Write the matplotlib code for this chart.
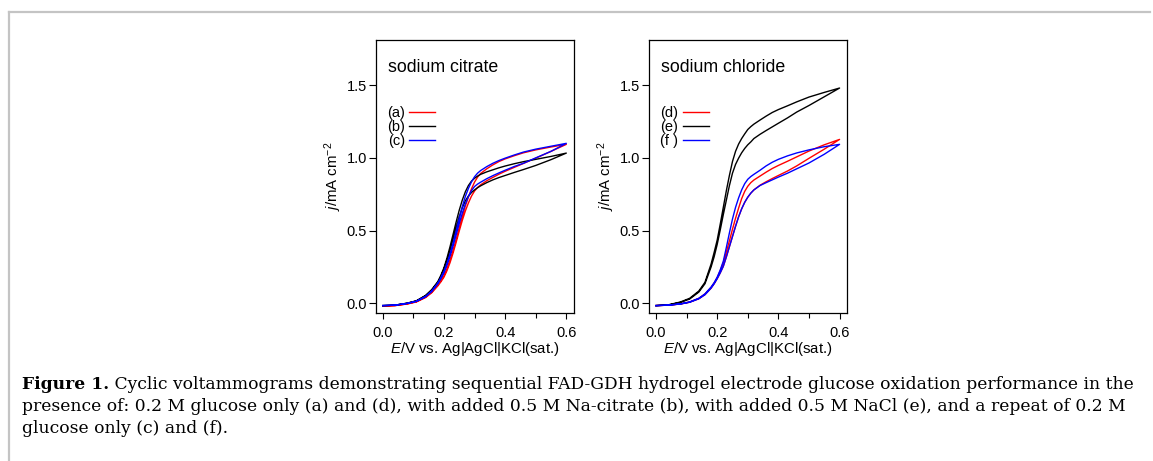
import numpy as np
import matplotlib
matplotlib.use('Agg')
import matplotlib.pyplot as plt
from matplotlib.lines import Line2D
from matplotlib.ticker import MultipleLocator

# potential grid (V) shared by all scans
E = [0, 0.04, 0.08, 0.11, 0.14, 0.16, 0.18, 0.19, 0.2, 0.21, 0.22, 0.23, 0.24, 0.25, 0.26,
     0.27, 0.28, 0.29, 0.3, 0.31, 0.32, 0.34, 0.36, 0.38, 0.4, 0.43, 0.46, 0.5, 0.55, 0.6]

# sodium citrate panel: current density (mA cm-2), forward (lower) / reverse (upper) branch
a_fwd = [-0.018, -0.015, -0.004, 0.01, 0.04, 0.073, 0.12, 0.148, 0.18, 0.225, 0.28, 0.347, 0.42, 0.497, 0.57,
         0.635, 0.69, 0.737, 0.772, 0.797, 0.815, 0.843, 0.866, 0.888, 0.908, 0.935, 0.962, 0.998, 1.045, 1.093]
a_rev = [-0.018, -0.015, -0.003, 0.012, 0.044, 0.078, 0.128, 0.157, 0.19, 0.24, 0.30, 0.367, 0.44, 0.52, 0.60,
         0.67, 0.73, 0.787, 0.833, 0.868, 0.893, 0.925, 0.952, 0.975, 0.993, 1.015, 1.035, 1.055, 1.075, 1.093]
b_fwd = [-0.015, -0.012, 0.001, 0.017, 0.052, 0.09, 0.143, 0.185, 0.235, 0.295, 0.365, 0.442, 0.52, 0.595, 0.657,
         0.705, 0.738, 0.762, 0.78, 0.795, 0.808, 0.83, 0.849, 0.865, 0.879, 0.9, 0.92, 0.948, 0.988, 1.033]
b_rev = [-0.015, -0.012, 0.002, 0.018, 0.055, 0.095, 0.15, 0.193, 0.245, 0.312, 0.39, 0.475, 0.56, 0.64, 0.71,
         0.767, 0.81, 0.84, 0.86, 0.875, 0.887, 0.904, 0.918, 0.932, 0.944, 0.96, 0.974, 0.99, 1.01, 1.033]
c_fwd = [-0.015, -0.012, 0.0, 0.014, 0.046, 0.082, 0.135, 0.17, 0.21, 0.263, 0.325, 0.395, 0.47, 0.548, 0.62,
         0.683, 0.735, 0.775, 0.803, 0.82, 0.833, 0.857, 0.878, 0.897, 0.915, 0.941, 0.963, 1.0, 1.045, 1.10]
c_rev = [-0.015, -0.012, 0.0, 0.015, 0.048, 0.085, 0.14, 0.177, 0.22, 0.275, 0.34, 0.415, 0.50, 0.585, 0.665,
         0.735, 0.79, 0.835, 0.87, 0.895, 0.913, 0.94, 0.963, 0.982, 0.998, 1.02, 1.04, 1.06, 1.08, 1.10]

# sodium chloride panel
d_fwd = [-0.015, -0.012, -0.004, 0.008, 0.032, 0.06, 0.105, 0.135, 0.17, 0.21, 0.255, 0.32, 0.39, 0.46, 0.53,
         0.595, 0.65, 0.695, 0.73, 0.758, 0.78, 0.812, 0.836, 0.858, 0.879, 0.91, 0.945, 0.997, 1.06, 1.127]
d_rev = [-0.015, -0.012, -0.003, 0.01, 0.035, 0.065, 0.11, 0.14, 0.177, 0.225, 0.28, 0.355, 0.43, 0.51, 0.585,
         0.655, 0.72, 0.77, 0.805, 0.83, 0.848, 0.875, 0.902, 0.927, 0.948, 0.977, 1.007, 1.047, 1.09, 1.127]
e_fwd = [-0.015, -0.011, 0.007, 0.03, 0.078, 0.135, 0.25, 0.32, 0.405, 0.505, 0.61, 0.71, 0.81, 0.895, 0.955,
         0.998, 1.035, 1.065, 1.09, 1.11, 1.133, 1.162, 1.188, 1.213, 1.238, 1.275, 1.315, 1.36, 1.42, 1.48]
e_rev = [-0.015, -0.01, 0.01, 0.035, 0.085, 0.145, 0.27, 0.35, 0.435, 0.545, 0.66, 0.775, 0.88, 0.975, 1.045,
         1.095, 1.133, 1.165, 1.195, 1.215, 1.232, 1.26, 1.287, 1.312, 1.332, 1.358, 1.385, 1.418, 1.45, 1.48]
f_fwd = [-0.015, -0.012, -0.004, 0.008, 0.032, 0.06, 0.105, 0.135, 0.17, 0.21, 0.255, 0.32, 0.39, 0.46, 0.53,
         0.595, 0.65, 0.695, 0.73, 0.758, 0.78, 0.81, 0.83, 0.849, 0.868, 0.895, 0.925, 0.965, 1.025, 1.093]
f_rev = [-0.015, -0.012, -0.003, 0.01, 0.035, 0.065, 0.112, 0.142, 0.18, 0.23, 0.29, 0.385, 0.485, 0.58, 0.66,
         0.725, 0.78, 0.823, 0.853, 0.872, 0.887, 0.915, 0.945, 0.97, 0.99, 1.014, 1.034, 1.055, 1.077, 1.093]

panels = [
    ('sodium citrate', [('(a)', a_fwd, a_rev, 'red'), ('(b)', b_fwd, b_rev, 'black'), ('(c)', c_fwd, c_rev, 'blue')]),
    ('sodium chloride', [('(d)', d_fwd, d_rev, 'red'), ('(e)', e_fwd, e_rev, 'black'), ('(f )', f_fwd, f_rev, 'blue')]),
]

caption_head = 'Figure 1.'
caption_lines = [
    ' Cyclic voltammograms demonstrating sequential FAD-GDH hydrogel electrode glucose oxidation performance in the',
    'presence of: 0.2 M glucose only (a) and (d), with added 0.5 M Na-citrate (b), with added 0.5 M NaCl (e), and a repeat of 0.2 M',
    'glucose only (c) and (f).',
]

plt.rcParams['font.family'] = 'Liberation Sans'
plt.rcParams['mathtext.fontset'] = 'custom'
plt.rcParams['mathtext.rm'] = 'Liberation Sans'
plt.rcParams['mathtext.it'] = 'Liberation Sans:italic'
plt.rcParams['font.size'] = 10.5

fig = plt.figure(figsize=(11.53, 4.61), dpi=100)

lefts = [0.3261, 0.5631]
for left, (title, curves) in zip(lefts, panels):
    ax = fig.add_axes([left, 0.321, 0.1717, 0.5922])
    Ex = np.concatenate([E, E[::-1]])
    for lab, fwd, rev, col in curves:
        ax.plot(Ex, np.concatenate([fwd, rev[::-1]]), color=col, lw=1.0, label=lab)
    ax.set_xlim(-0.022, 0.625)
    ax.set_ylim(-0.066, 1.81)
    ax.xaxis.set_major_locator(MultipleLocator(0.2))
    ax.xaxis.set_minor_locator(MultipleLocator(0.1))
    ax.yaxis.set_major_locator(MultipleLocator(0.5))
    ax.tick_params(which='both', direction='out', length=4.5, width=0.8, labelsize=10.5)
    ax.tick_params(axis='y', length=5, pad=1.5)
    ax.tick_params(axis='x', which='minor', length=3.5)
    ax.tick_params(axis='x', pad=5)
    ax.text(0.06, 0.9, title, transform=ax.transAxes, fontsize=12.8, va='center', ha='left')
    ax.set_xlabel(r'$\it{E}$/V vs. Ag|AgCl|KCl(sat.)', fontsize=10.8, labelpad=0)
    ax.set_ylabel(r'$\it{j}$/mA cm$^{-2}$', fontsize=10.8, labelpad=2)
    ax.legend(loc='upper left', bbox_to_anchor=(0.055, 0.757), frameon=False, markerfirst=False,
              handlelength=1.8, handletextpad=0.3, labelspacing=0.0, borderpad=0, borderaxespad=0,
              fontsize=10.5)
    for s in ax.spines.values():
        s.set_linewidth(0.9)

# caption
cap_font = 'DejaVu Serif'
cap_size = 12.3
t1 = fig.text(22 / 1153, 1 - 389 / 461, caption_head, fontsize=cap_size, family=cap_font,
              fontweight='bold', va='baseline')
plt.annotate(caption_lines[0], xy=(1, 0), xycoords=t1, va='bottom', ha='left',
             fontsize=cap_size, family=cap_font)
fig.text(22 / 1153, 1 - 411 / 461, caption_lines[1], fontsize=cap_size, family=cap_font, va='baseline')
fig.text(22 / 1153, 1 - 433 / 461, caption_lines[2], fontsize=cap_size, family=cap_font, va='baseline')

# gray frame lines at top and left
fig.add_artist(Line2D([8.5 / 1153, 1150 / 1153], [1 - 12.5 / 461, 1 - 12.5 / 461], color='#c4c4c4', lw=1.6))
fig.add_artist(Line2D([8.5 / 1153, 8.5 / 1153], [0, 1 - 12.5 / 461], color='#c4c4c4', lw=1.6))

fig.savefig('out.png', dpi=100)
